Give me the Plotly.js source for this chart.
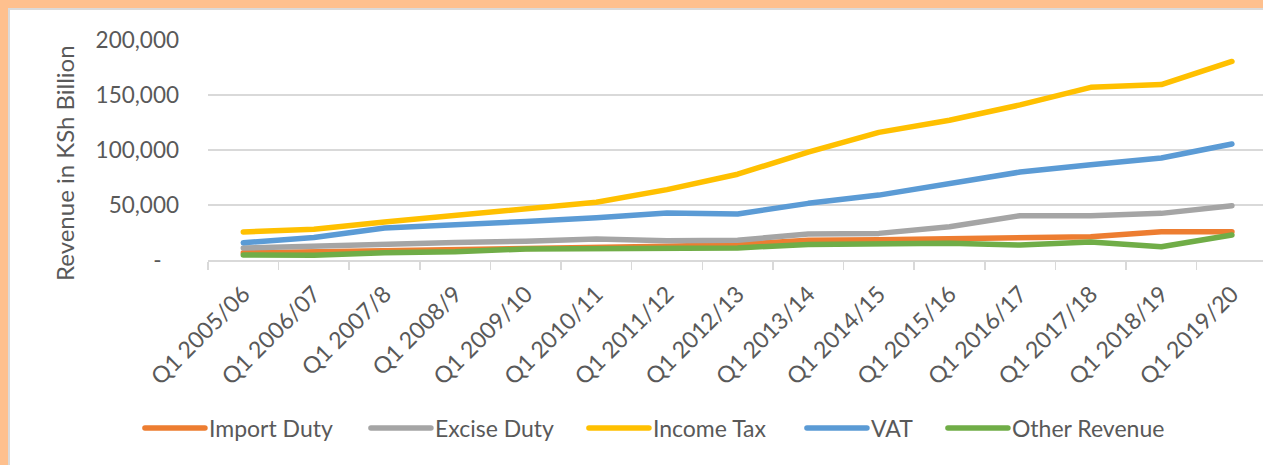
<!DOCTYPE html>
<html>
<head>
<meta charset="utf-8">
<script src="https://cdn.plot.ly/plotly-3.0.1.min.js"></script>
<style>
  html, body { margin: 0; padding: 0; }
  body { width: 1263px; height: 465px; background: #FEC08E; overflow: hidden; position: relative; }
  #frame { position: absolute; left: 8px; top: 8px; width: 1255px; height: 457px; background: #ffffff;
           border-left: 2px solid #dadada; border-top: 2px solid #dadada; box-sizing: border-box; overflow: hidden; }
  #chart { position: absolute; left: 0; top: 0; width: 1253px; height: 455px; }
  .scatterlayer .js-line { stroke-linecap: round; stroke-linejoin: round; }
  .legend .legendlines path { d: path("M5,0h60"); stroke-linecap: round; }
</style>
</head>
<body>
<div id="frame"><div id="chart"></div></div>
<script>
const categories = ['Q1 2005/06','Q1 2006/07','Q1 2007/8','Q1 2008/9','Q1 2009/10','Q1 2010/11','Q1 2011/12','Q1 2012/13','Q1 2013/14','Q1 2014/15','Q1 2015/16','Q1 2016/17','Q1 2017/18','Q1 2018/19','Q1 2019/20'];
const importDuty = [6500, 7500, 8500, 9000, 9500, 10500, 12500, 14000, 18000, 18500, 19700, 20600, 21200, 25700, 25700];
const exciseDuty = [10900, 13000, 15000, 16000, 17000, 19000, 17500, 18000, 23600, 24200, 30300, 40300, 40300, 42400, 49400];
const incomeTax = [25500, 28000, 34500, 40500, 46500, 52500, 64000, 78000, 98000, 116000, 127000, 141000, 157000, 159500, 180500];
const vat = [15700, 20500, 29000, 31500, 35000, 38500, 42700, 41800, 51500, 59000, 69500, 80000, 86500, 92700, 105500];
const otherRevenue = [4500, 4300, 6600, 7500, 10000, 10400, 10600, 11000, 14200, 14500, 15200, 13600, 16400, 12100, 22700];
const yTickVals = [0, 50000, 100000, 150000, 200000];
const yTickText = ['-\u00a0\u00a0\u00a0', '50,000', '100,000', '150,000', '200,000'];
const yTitle = 'Revenue in KSh Billion';

const FONT = 'Lato, "Open Sans", sans-serif';
const TXT = '#595959';

function mk(name, y, color, lw) {
  return { type: 'scatter', mode: 'lines', name: name, x: categories, y: y,
           line: { color: color, width: 5.5 }, legendwidth: lw, hoverinfo: 'skip' };
}
const traces = [
  mk('Import Duty', importDuty, '#ED7D31', 152),
  mk('Excise Duty', exciseDuty, '#A5A5A5', 144),
  mk('Income Tax', incomeTax, '#FFC000', 144),
  mk('VAT', vat, '#5B9BD5', 67),
  mk('Other Revenue', otherRevenue, '#70AD47', 160)
];

const layout = {
  width: 1253, height: 455,
  margin: { l: 198, r: 0, t: 30, b: 205, pad: 0 },
  paper_bgcolor: '#ffffff', plot_bgcolor: '#ffffff',
  font: { family: FONT, size: 22.5, color: TXT },
  showlegend: true,
  xaxis: {
    type: 'category', range: [-0.5, 14.44], automargin: false,
    tickson: 'boundaries', ticks: 'outside', ticklen: 8, tickwidth: 1.5, tickcolor: '#d9d9d9',
    showline: true, linecolor: '#d9d9d9', linewidth: 1.5, showgrid: false, zeroline: false,
    tickangle: -45, ticklabelstandoff: 10, tickfont: { family: FONT, size: 23, color: TXT }
  },
  yaxis: {
    range: [0, 200000], automargin: false, tickmode: 'array', tickvals: yTickVals, ticktext: yTickText,
    showgrid: true, gridcolor: '#d9d9d9', gridwidth: 1.5, zeroline: false, showline: false, ticks: '',
    ticklabelstandoff: 28, tickfont: { family: FONT, size: 22.5, color: TXT }
  },
  legend: {
    orientation: 'h', x: -0.0645, xanchor: 'left', y: -0.764, yanchor: 'middle',
    itemwidth: 59, font: { family: FONT, size: 23, color: TXT }, bgcolor: 'rgba(0,0,0,0)'
  },
  annotations: [{
    text: yTitle, textangle: -90, xref: 'paper', yref: 'paper', x: -0.1355, y: 0.441,
    xanchor: 'center', yanchor: 'middle', showarrow: false, font: { family: FONT, size: 24, color: TXT }
  }]
};

Plotly.newPlot('chart', traces, layout, { staticPlot: true, displayModeBar: false });
</script>
</body>
</html>
